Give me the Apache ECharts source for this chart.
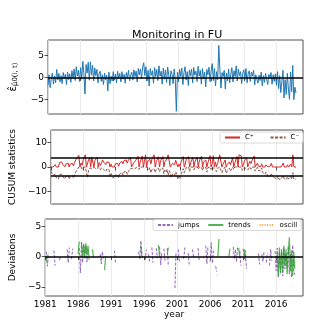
<!DOCTYPE html>
<html>
<head>
<meta charset="utf-8">
<script src="https://cdn.jsdelivr.net/npm/echarts@6/dist/echarts.min.js"></script>
<style>
html, body { margin: 0; padding: 0; background: #fff; }
#main { width: 336px; height: 336px; }
</style>
</head>
<body>
<div id="main"></div>
<script>
var n = null
// one value every two months, from 1981.0
var startYear = 1981
var stepYear = 1 / 6
var yearTicks = [1981, 1986, 1991, 1996, 2001, 2006, 2011, 2016]

var residuals = [
  -1.8, 0.6, -2.3, -0.4, 1.0, -1.5,
  0.3, -1.2, 1.8, -0.6, 0.9, -1.0,
  0.4, -1.4, 1.1, -0.3, 0.7, -1.6,
  1.2, -0.5, 0.8, -1.1, 1.5, -0.2,
  1.9, -0.7, 2.4, 0.3, 1.6, -0.9,
  2.2, -0.4, 3.6, 0.8, -3.7, 2.9,
  1.0, 3.4, -0.6, 3.5, 0.5, 2.7,
  -0.8, 2.1, 0.4, 1.8, -1.2, 0.9,
  1.4, -0.9, 0.6, -1.6, 1.0, -0.5,
  0.5, -3.0, 1.2, -1.4, 0.3, -0.8,
  1.3, -0.6, 0.8, -1.2, 1.4, -0.3,
  0.9, -1.0, 1.3, -0.4, 0.7, -1.3,
  1.1, -0.2, 1.6, -0.8, 0.5, 1.2,
  -0.6, 1.7, 0.2, 1.4, -1.0, 2.0,
  0.6, 1.9, -0.3, 2.3, 3.3, 0.4,
  2.4, -0.8, 1.6, -1.9, 2.0, 0.5,
  1.5, -1.3, 2.2, 0.2, 1.8, -0.7,
  2.6, 0.3, 1.4, -1.5, 2.1, -0.4,
  1.7, -1.1, 2.3, 0.6, -1.8, 1.5,
  0.8, -1.4, 1.9, -0.5, -7.6, 1.2,
  -1.0, 1.8, 0.2, 2.1, -1.6, 1.1,
  2.4, -0.6, 1.3, -1.8, 1.7, 0.4,
  1.9, -1.2, 2.2, 0.5, 1.4, -0.9,
  2.5, 0.3, 1.6, -1.5, 2.0, -0.3,
  1.2, -2.1, 1.8, 0.6, 2.3, -1.0,
  1.5, 3.1, -0.7, 2.0, -1.9, 1.3,
  -0.5, 7.2, 1.8, -2.4, 1.1, 0.2,
  1.6, -2.6, 1.0, -0.8, 1.9, -1.2,
  0.7, 2.2, -1.0, 1.5, 0.2, 2.6,
  -0.8, 1.9, 0.4, 1.3, -1.4, 0.9,
  1.7, -0.5, 2.0, -1.2, 0.8, 1.5,
  -0.9, 1.2, 0.3, 1.6, -1.7, 0.6,
  1.0, -1.3, 0.5, -0.7, 1.2, -1.9,
  0.4, -1.1, 0.9, -0.4, -1.6, 0.7,
  -0.3, 1.1, -1.5, 0.6, -0.9, 0.8,
  -1.8, 1.3, -2.5, 0.4, -3.4, -1.0,
  1.6, -4.6, -0.5, -3.8, 0.9, -2.6,
  -4.9, 1.2, -3.2, 2.7, -5.0, -2.2,
  -3.5
]

var cPlus = [
  0.0, 0.6, 0.0, 0.0, 1.0, 0.0,
  0.3, 0.0, 1.8, 1.2, 2.1, 1.1,
  1.5, 0.1, 1.2, 0.9, 1.6, 0.0,
  1.2, 0.7, 1.5, 0.4, 1.9, 1.7,
  3.6, 2.9, 4.8, 0.0, 1.6, 0.7,
  2.9, 2.5, 5.0, 0.0, 0.0, 2.9,
  3.9, 0.0, 4.1, 4.9, 0.0, 2.7,
  1.9, 4.0, 0.0, 1.8, 0.6, 1.5,
  2.9, 2.0, 2.6, 1.0, 2.0, 1.5,
  2.0, 0.0, 1.2, 0.0, 0.3, 0.0,
  1.3, 0.7, 1.5, 0.3, 1.7, 1.4,
  2.3, 1.3, 2.6, 2.2, 2.9, 1.6,
  2.7, 2.5, 4.1, 0.0, 0.5, 1.7,
  1.1, 2.8, 3.0, 4.4, 0.0, 2.0,
  2.6, 4.5, 0.0, 2.3, 5.0, 0.0,
  2.4, 1.6, 3.2, 1.3, 3.3, 3.8,
  5.0, 0.0, 2.2, 2.4, 4.2, 0.0,
  2.6, 2.9, 4.3, 0.0, 2.1, 1.7,
  3.4, 5.0, 5.0, 0.0, 0.0, 1.5,
  2.3, 0.9, 2.8, 2.3, 0.0, 1.2,
  0.2, 2.0, 2.2, 4.3, 0.0, 1.1,
  3.5, 2.9, 4.2, 0.0, 1.7, 2.1,
  4.0, 0.0, 2.2, 2.7, 4.1, 0.0,
  2.5, 2.8, 4.4, 0.0, 2.0, 1.7,
  2.9, 0.0, 1.8, 2.4, 4.7, 0.0,
  1.5, 4.6, 0.0, 2.0, 0.1, 1.4,
  0.9, 5.0, 5.0, 0.0, 1.1, 1.3,
  2.9, 0.0, 1.0, 0.2, 2.1, 0.9,
  1.6, 3.8, 0.0, 1.5, 1.7, 4.3,
  0.0, 5.0, 5.0, 4.6, 0.0, 0.9,
  2.6, 2.1, 4.1, 0.0, 0.8, 2.3,
  1.4, 2.6, 2.9, 4.5, 0.0, 0.6,
  1.6, 0.3, 0.8, 0.1, 1.3, 0.0,
  0.4, 0.0, 0.9, 0.5, 0.0, 0.7,
  0.4, 1.5, 0.0, 0.6, 0.0, 0.0,
  0.0, 0.0, 0.0, 0.0, 0.0, 0.0,
  1.6, 0.0, 0.0, 0.0, 0.9, 0.0,
  0.0, 1.2, 0.0, 5.0, 0.0, 0.0,
  0.0
]

var cMinus = [
  -1.8, -1.2, -3.5, -3.9, -2.9, -4.4,
  -4.1, -5.0, -3.2, -3.8, -2.9, -3.9,
  -3.5, -4.9, -3.8, -4.1, -3.4, -5.0,
  -3.8, -4.3, -3.5, -4.6, -3.1, -3.3,
  -1.4, -2.1, 0.0, -0.3, 0.0, -0.9,
  0.0, -0.4, 0.0, -0.6, -4.3, -1.4,
  -0.4, 0.0, -0.6, 0.0, -0.1, 0.0,
  -0.8, 0.0, -0.2, 0.0, -1.2, -0.3,
  0.0, -0.9, -0.3, -1.9, -0.9, -1.4,
  -0.9, -3.9, -2.7, -4.1, -3.8, -4.6,
  -3.3, -3.9, -3.1, -4.3, -2.9, -3.2,
  -2.3, -3.3, -2.0, -2.4, -1.7, -3.0,
  -1.9, -2.1, -0.5, -1.3, -0.8, 0.0,
  -0.6, 0.0, -0.2, 0.0, -1.0, 0.0,
  0.0, 0.0, -0.3, 0.0, 0.0, 0.0,
  -0.4, -1.2, -0.3, -2.4, -1.0, -0.2,
  -0.8, -2.3, -0.9, -1.5, -0.5, -1.9,
  -0.6, -1.3, -0.4, -2.8, -1.2, -2.1,
  -0.9, -3.4, -1.5, -2.6, -4.2, -2.9,
  -2.1, -3.6, -1.9, -2.8, -5.0, -3.8,
  -4.8, -3.0, -2.8, -0.7, -2.3, -1.2,
  0.0, -0.6, 0.0, -1.8, -0.1, 0.0,
  0.0, -1.2, 0.0, -0.5, 0.0, -0.9,
  0.0, -0.2, 0.0, -1.5, 0.0, -0.3,
  0.0, -2.1, -0.3, -0.1, 0.0, -1.0,
  0.0, 0.0, -0.7, 0.0, -1.9, -0.6,
  0.0, 0.0, 0.0, -2.4, -1.3, -1.1,
  0.0, -2.6, -1.6, -2.4, -0.5, -1.7,
  -1.0, 0.0, -1.0, 0.0, -0.2, 0.0,
  -0.8, 0.0, -0.4, 0.0, -1.4, -0.5,
  0.0, -0.5, 0.0, -1.2, -0.4, 0.0,
  -0.9, 0.0, -0.2, 0.0, -1.7, -1.1,
  -0.1, -1.4, -0.9, -1.6, -0.4, -2.3,
  -1.9, -3.0, -2.1, -2.5, -4.1, -3.4,
  -3.7, -2.6, -4.1, -3.5, -4.4, -3.6,
  -5.0, -3.7, -5.0, -4.6, -5.0, -5.0,
  -3.4, -5.0, -5.0, -5.0, -4.1, -5.0,
  -5.0, -3.8, -5.0, -2.3, -5.0, -5.0,
  -5.0
]

var jumps = [
  n, 0.8, -1.6, 0.5, n, n,
  n, n, 1.0, -1.5, n, n,
  n, -0.6, 0.1, n, -0.3, n,
  n, n, 1.2, -1.0, 1.5, n,
  -0.4, 1.3, n, n, n, n,
  n, 1.4, -2.7, 2.3, -1.0, 2.0,
  0.4, 1.8, -0.9, 1.2, n, n,
  n, n, n, n, n, n,
  n, n, 0.4, -1.2, 0.8, -0.3,
  n, n, n, n, n, n,
  n, n, n, 1.0, -1.1, n,
  n, n, n, n, n, n,
  n, n, n, n, n, n,
  n, n, n, n, n, n,
  n, 0.8, -0.4, 2.6, 0.5, n,
  n, -0.6, 1.2, n, 0.4, -0.8,
  n, 1.5, -1.0, n, n, 1.4,
  -0.3, n, 1.6, -1.4, 0.6, n,
  1.3, -0.8, n, 1.4, -1.6, n,
  0.9, n, -1.7, n, -5.2, 0.8,
  n, 1.2, -0.9, n, 1.4, n,
  -0.4, 1.5, n, n, 0.6, -1.3,
  n, n, 1.2, -0.2, n, n,
  n, 1.4, -0.6, n, 1.0, n,
  -0.5, n, 1.8, -1.2, 1.6, n,
  -0.8, 2.3, -1.1, 1.0, n, -1.6,
  -2.5, n, n, n, n, n,
  n, n, n, n, n, n,
  n, n, n, 1.6, -0.4, 1.2,
  -0.8, 1.5, n, 0.9, -1.5, n,
  1.3, -0.4, 1.0, -2.0, n, n,
  n, n, -0.9, n, n, n,
  n, n, 0.5, -1.3, n, 0.4,
  -0.8, 0.8, n, -1.0, 0.6, n,
  -1.5, 1.2, -0.7, n, n, 0.9,
  -2.3, 1.4, -3.5, 0.8, -2.6, 1.2,
  -3.2, 1.5, -2.0, 0.6, -1.8, 1.7,
  -2.9, 0.4, -3.4, 1.9, -2.2, -3.0,
  n
]

var trends = [
  n, -0.8, 0.3, n, n, n,
  n, n, n, n, n, n,
  n, n, n, n, n, n,
  n, n, n, n, n, n,
  n, n, n, n, n, n,
  0.4, 2.5, n, 2.4, 0.0, 2.1,
  -0.3, 2.2, 0.4, 1.8, -0.5, n,
  n, 1.2, -0.2, n, n, n,
  n, n, n, n, n, n,
  -2.2, 0.0, n, n, n, n,
  n, n, n, n, n, n,
  n, n, n, n, n, n,
  n, n, n, n, n, n,
  n, n, n, n, n, n,
  n, n, n, 1.7, -0.2, n,
  n, n, n, n, n, n,
  n, n, n, n, n, n,
  n, 1.9, 0.0, n, n, n,
  n, n, n, 0.4, 1.5, n,
  n, n, n, n, n, n,
  n, n, n, n, n, n,
  n, n, n, n, n, n,
  n, n, n, n, n, n,
  n, n, n, n, n, n,
  n, n, n, n, n, n,
  n, n, n, n, n, n,
  n, 0.0, 2.9, n, n, n,
  n, n, n, n, n, 0.0,
  1.3, n, n, n, n, n,
  n, n, 1.4, -0.3, n, n,
  n, 1.2, -0.6, n, n, n,
  n, n, n, n, n, n,
  n, n, n, n, n, n,
  n, n, n, n, n, n,
  n, n, n, n, n, n,
  n, 0.6, -3.1, 1.5, -2.8, 0.9,
  -2.5, 1.8, -1.5, 1.2, -2.9, 0.5,
  3.2, -2.4, 1.0, -3.2, 0.8, -2.0,
  n
]

var oscill = [
  n, n, n, n, n, n,
  n, n, n, n, n, n,
  n, n, n, n, n, n,
  n, n, n, n, n, n,
  n, n, n, n, n, n,
  n, n, n, 0.3, -0.3, n,
  n, n, n, n, n, n,
  n, n, n, n, n, n,
  n, n, n, n, n, n,
  n, n, n, n, n, n,
  n, n, n, n, n, n,
  n, n, n, n, n, n,
  n, n, n, n, n, n,
  n, n, n, n, n, n,
  n, n, n, n, n, n,
  n, n, n, n, n, n,
  n, n, n, n, n, n,
  n, n, n, n, n, n,
  n, n, n, n, n, n,
  n, n, n, n, n, n,
  n, n, n, n, n, n,
  n, n, n, n, n, n,
  n, n, n, n, n, n,
  n, n, n, n, n, n,
  n, n, n, n, n, n,
  n, n, n, n, n, n,
  -3.0, -3.3, n, n, n, n,
  n, n, n, n, n, n,
  n, n, n, n, n, n,
  n, n, n, n, n, n,
  n, n, n, n, n, n,
  n, n, n, n, n, n,
  n, n, n, n, n, n,
  n, n, n, n, n, n,
  n, n, n, n, n, n,
  n, n, n, n, n, n,
  n, n, n, n, n, n,
  n, n, n, n, n, n,
  n
]

var cusumLimit = 3.67

function toPoints(arr) {
  return arr.map(function (v, i) { return [startYear + i * stepYear, v] })
}

var font = 'DejaVu Sans'
var frame = '#262626'

function xAxisFor(idx, showLabels) {
  return {
    type: 'value', gridIndex: idx, min: 1981, max: 2020.07, interval: 5,
    axisLine: { show: false },
    axisTick: { show: true, length: 3.5, customValues: yearTicks, lineStyle: { color: frame, width: 0.8 } },
    axisLabel: {
      show: showLabels, customValues: yearTicks, margin: 4,
      fontFamily: font, fontSize: 9, color: '#000',
      formatter: function (v) { return String(v) }
    },
    splitLine: { show: true, lineStyle: { color: '#e6e6e6', width: 0.8 } },
    name: showLabels ? 'year' : '', nameLocation: 'middle', nameGap: 14,
    nameTextStyle: { fontFamily: font, fontSize: 9, color: '#000' }
  }
}

function yAxisFor(idx, min, max, ticks, name, gap) {
  return {
    type: 'value', gridIndex: idx, min: min, max: max,
    axisLine: { show: false },
    axisTick: { show: true, length: 3.5, customValues: ticks, lineStyle: { color: frame, width: 0.8 } },
    axisLabel: {
      customValues: ticks, margin: 4, fontFamily: font, fontSize: 9, color: '#000',
      formatter: function (v) { return String(v).replace('-', '\u2212') }
    },
    splitLine: { show: false },
    name: name, nameLocation: 'middle', nameGap: gap, nameRotate: 90,
    nameTextStyle: {
      fontFamily: font, fontSize: 9, color: '#000',
      rich: {
        e: { fontFamily: font, fontSize: 10, color: '#000' },
        s: { fontFamily: font, fontSize: 7, color: '#000', verticalAlign: 'bottom', padding: [5, 0, 0, 0] }
      }
    }
  }
}

function zeroLine(val) {
  return { silent: true, symbol: 'none', label: { show: false }, animation: false,
    lineStyle: { color: '#000', width: 1.5, type: 'solid' },
    data: val.map(function (v) { return { yAxis: v } }) }
}

var legendBase = {
  orient: 'horizontal', itemWidth: 15, itemHeight: 8,
  padding: [2, 4, 2, 4], borderColor: '#d0d0d0', borderWidth: 0.8, borderRadius: 2,
  backgroundColor: 'rgba(255,255,255,0.8)',
  itemStyle: { opacity: 0 },
  textStyle: { fontFamily: font, fontSize: 7, color: '#000' }
}

var myChart = echarts.init(document.getElementById('main'), null, { renderer: 'canvas' })

var option = {
  animation: false,
  backgroundColor: '#fff',
  title: {
    text: 'Monitoring in FU', left: 127, top: 25,
    textStyle: { fontFamily: font, fontSize: 11, fontWeight: 'normal', color: '#000' }
  },
  grid: [
    { left: 42, top: 40, width: 261, height: 74, show: true, borderColor: frame, borderWidth: 0.8 },
    { left: 42, top: 130, width: 261, height: 74, show: true, borderColor: frame, borderWidth: 0.8 },
    { left: 42, top: 219, width: 261, height: 77, show: true, borderColor: frame, borderWidth: 0.8 }
  ],
  legend: [
    Object.assign({}, legendBase, { data: ['C\u207a', 'C\u207b'], left: 220, top: 132, itemGap: 16 }),
    Object.assign({}, legendBase, { data: ['jumps', 'trends', 'oscill'], left: 153, top: 219.5, itemGap: 8 })
  ],
  xAxis: [xAxisFor(0, false), xAxisFor(1, false), xAxisFor(2, true)],
  yAxis: [
    yAxisFor(0, -8.2, 8.4, [-5, 0, 5], '{e|\u03b5\u0302}{s|\u03bc\u03020(i, t)}', 29),
    yAxisFor(1, -15.2, 15.2, [-10, 0, 10], 'CUSUM statistics', 27),
    yAxisFor(2, -6.5, 6.2, [-5, 0, 5], 'Deviations', 22)
  ],
  series: [
    {
      name: 'residual', type: 'line', xAxisIndex: 0, yAxisIndex: 0,
      data: toPoints(residuals), showSymbol: false, symbol: 'none',
      lineStyle: { color: '#1f77b4', width: 1 },
      markLine: zeroLine([0])
    },
    {
      name: 'C\u207a', type: 'line', xAxisIndex: 1, yAxisIndex: 1,
      data: toPoints(cPlus), symbol: 'none', color: '#d62728',
      lineStyle: { color: '#d62728', width: 1 },
      markLine: zeroLine([cusumLimit, -cusumLimit])
    },
    {
      name: 'C\u207b', type: 'line', xAxisIndex: 1, yAxisIndex: 1,
      data: toPoints(cMinus), symbol: 'none', color: '#8c564b',
      lineStyle: { color: '#8c564b', width: 1, type: [3, 1.5] }
    },
    {
      name: 'jumps', type: 'line', xAxisIndex: 2, yAxisIndex: 2,
      data: toPoints(jumps), symbol: 'none', connectNulls: false, color: '#9467bd',
      lineStyle: { color: '#9467bd', width: 1, type: [3, 1.5] },
      markLine: zeroLine([0])
    },
    {
      name: 'trends', type: 'line', xAxisIndex: 2, yAxisIndex: 2,
      data: toPoints(trends), symbol: 'none', connectNulls: false, color: '#2ca02c',
      lineStyle: { color: '#2ca02c', width: 1.2, opacity: 0.8 }
    },
    {
      name: 'oscill', type: 'line', xAxisIndex: 2, yAxisIndex: 2,
      data: toPoints(oscill), symbol: 'none', connectNulls: false, color: '#ff7f0e',
      lineStyle: { color: '#ff7f0e', width: 1, type: [1, 1.5], opacity: 0.8 }
    }
  ]
}

myChart.setOption(option)
</script>
</body>
</html>
